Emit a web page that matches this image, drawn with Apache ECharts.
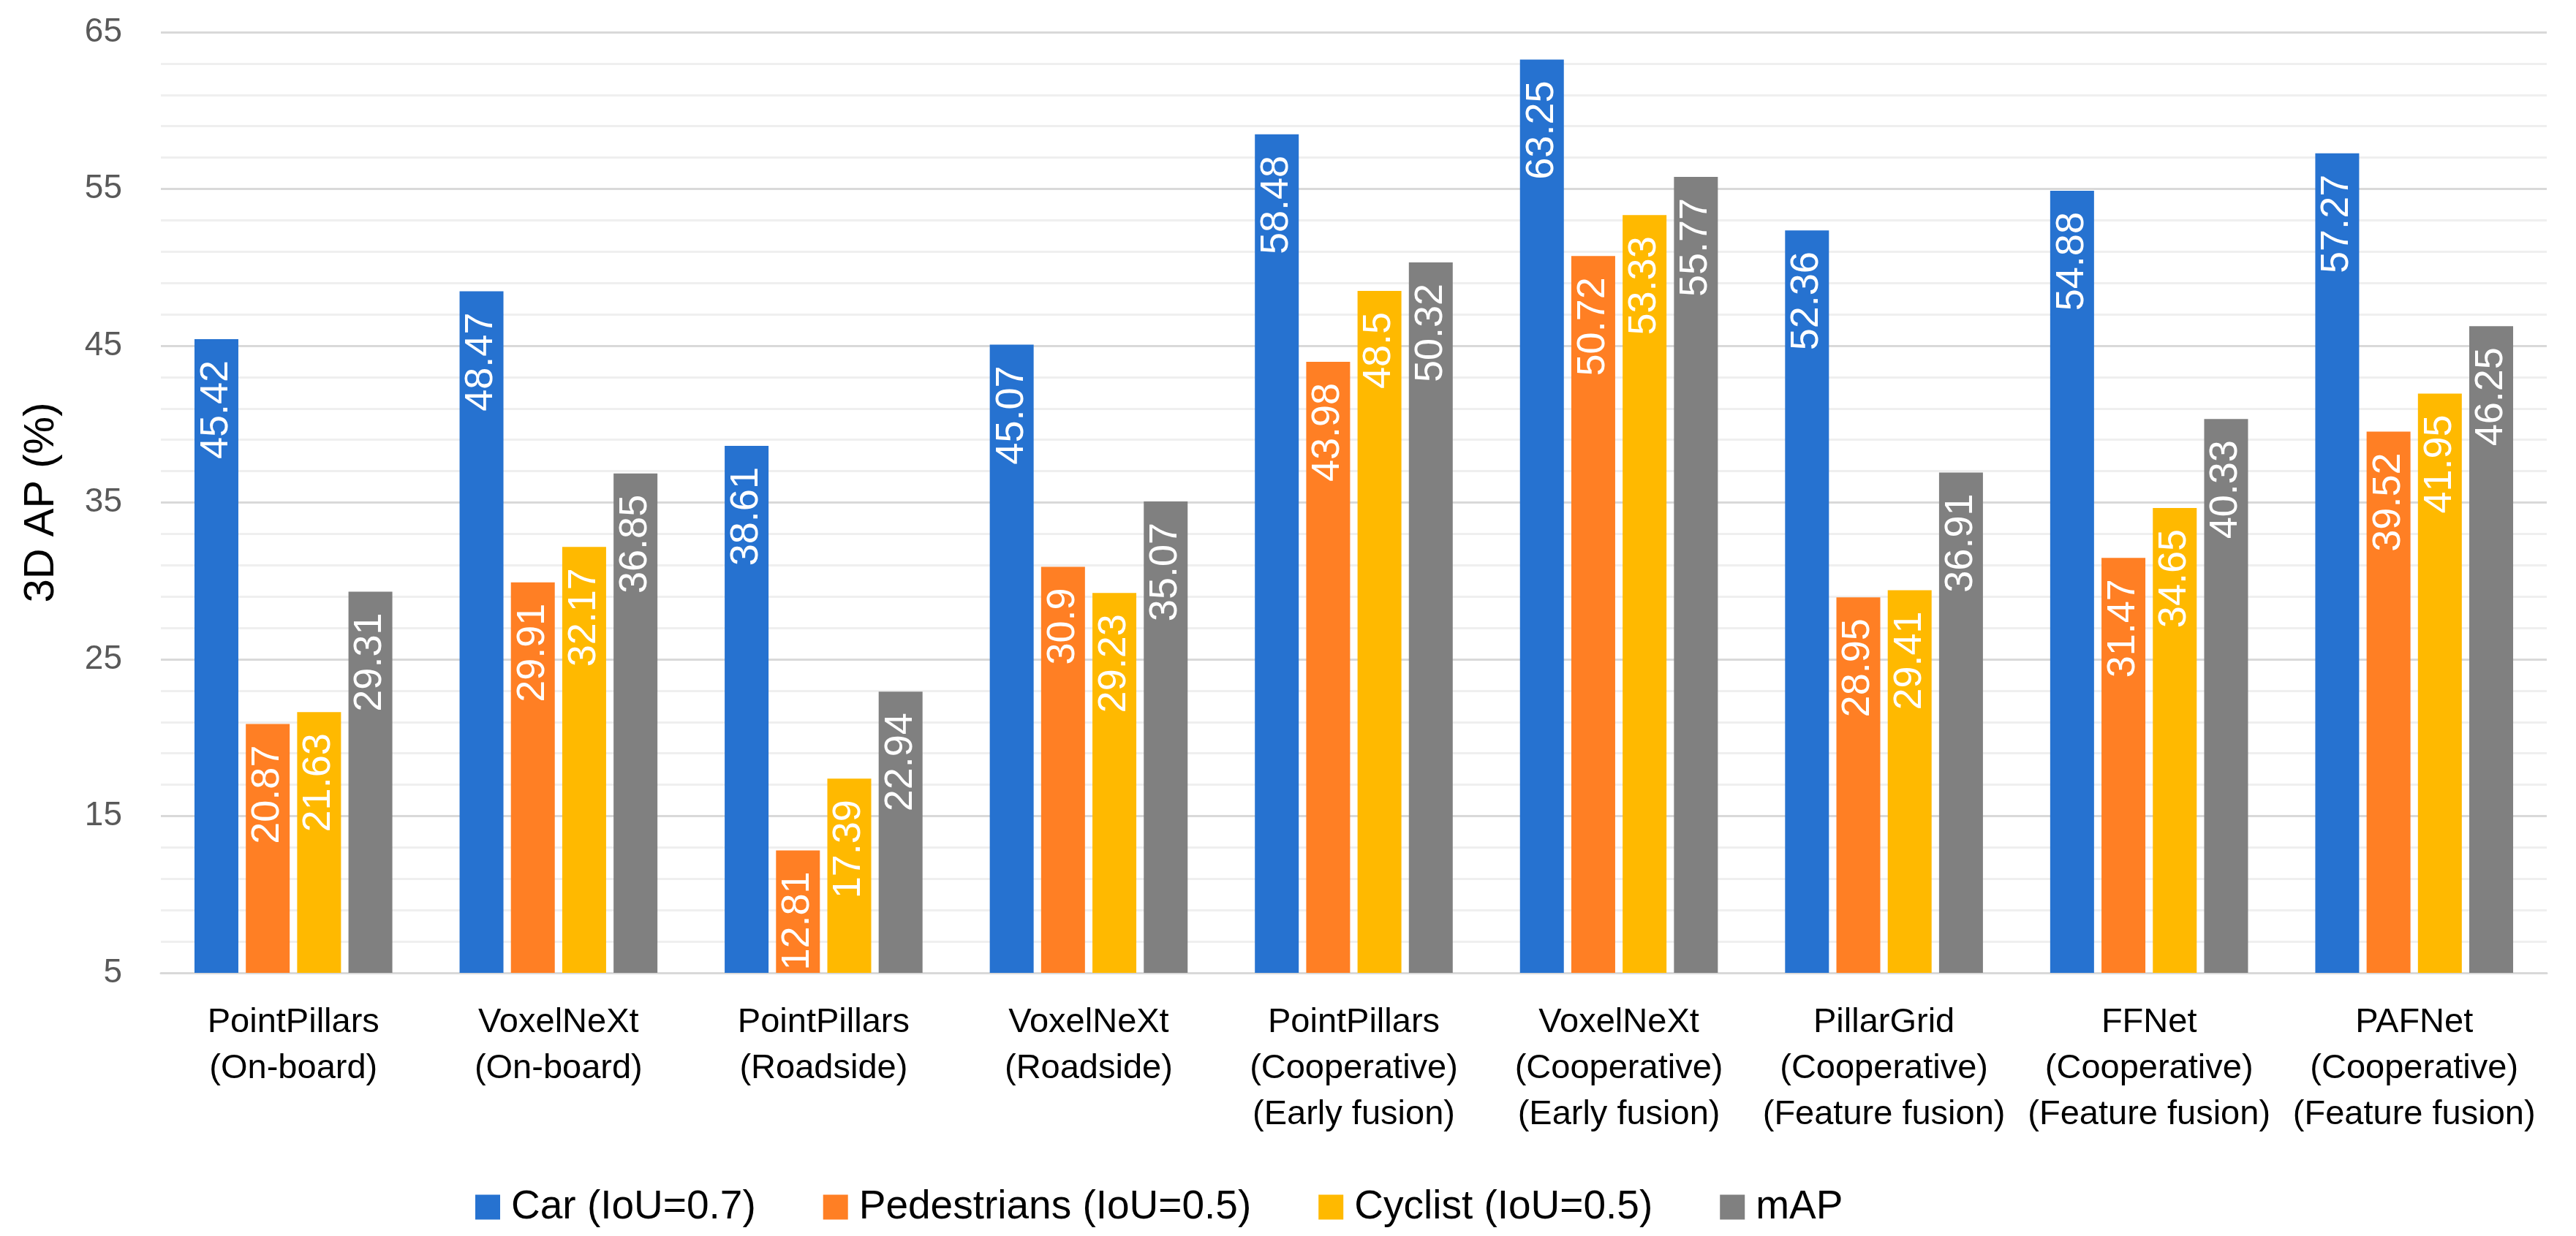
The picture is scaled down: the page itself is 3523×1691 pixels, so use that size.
<!DOCTYPE html>
<html>
<head>
<meta charset="utf-8">
<script src="https://cdn.jsdelivr.net/npm/echarts@6/dist/echarts.min.js"></script>
<style>
html,body{margin:0;padding:0;background:#fff;}
#chart{width:3523px;height:1691px;}
</style>
</head>
<body>
<div id="chart"></div>
<script>
const categories = [
  'PointPillars\n(On-board)',
  'VoxelNeXt\n(On-board)',
  'PointPillars\n(Roadside)',
  'VoxelNeXt\n(Roadside)',
  'PointPillars\n(Cooperative)\n(Early fusion)',
  'VoxelNeXt\n(Cooperative)\n(Early fusion)',
  'PillarGrid\n(Cooperative)\n(Feature fusion)',
  'FFNet\n(Cooperative)\n(Feature fusion)',
  'PAFNet\n(Cooperative)\n(Feature fusion)'
];
const seriesNames = ['Car (IoU=0.7)', 'Pedestrians (IoU=0.5)', 'Cyclist (IoU=0.5)', 'mAP'];
const carValues = [45.42, 48.47, 38.61, 45.07, 58.48, 63.25, 52.36, 54.88, 57.27];
const pedestrianValues = [20.87, 29.91, 12.81, 30.9, 43.98, 50.72, 28.95, 31.47, 39.52];
const cyclistValues = [21.63, 32.17, 17.39, 29.23, 48.5, 53.33, 29.41, 34.65, 41.95];
const mapValues = [29.31, 36.85, 22.94, 35.07, 50.32, 55.77, 36.91, 40.33, 46.25];
const yTicks = [5, 15, 25, 35, 45, 55, 65];

const colors = ['#2672D0', '#FF7F24', '#FFB900', '#808080'];
const FONT = 'Liberation Sans';
const allValues = [carValues, pedestrianValues, cyclistValues, mapValues];

const chart = echarts.init(document.getElementById('chart'), null, {renderer: 'canvas'});
chart.setOption({
  backgroundColor: '#ffffff',
  animation: false,
  color: colors,
  textStyle: {fontFamily: FONT},
  grid: {left: 220, right: 40, top: 44, bottom: 360, containLabel: false},
  legend: {
    left: 645,
    top: 1619,
    itemWidth: 34,
    itemHeight: 34,
    itemGap: 92,
    icon: 'rect',
    textStyle: {fontFamily: FONT, fontSize: 55, color: '#000', padding: [0, 0, 0, 10]},
    data: seriesNames
  },
  xAxis: {
    type: 'category',
    data: categories,
    axisLine: {show: true, lineStyle: {color: '#d9d9d9', width: 3}},
    axisTick: {show: false},
    axisLabel: {
      fontFamily: FONT, fontSize: 47, color: '#000', lineHeight: 63,
      margin: 37, verticalAlign: 'top', interval: 0
    }
  },
  yAxis: {
    type: 'value',
    min: yTicks[0],
    max: yTicks[yTicks.length - 1],
    interval: 10,
    name: '3D AP (%)',
    nameLocation: 'middle',
    nameRotate: 90,
    nameGap: 134,
    nameTextStyle: {fontFamily: FONT, fontSize: 58, color: '#000'},
    axisLine: {show: false},
    axisTick: {show: false},
    axisLabel: {fontFamily: FONT, fontSize: 46, color: '#595959', margin: 53},
    splitLine: {show: true, lineStyle: {color: '#d9d9d9', width: 3}},
    minorTick: {show: false, splitNumber: 5},
    minorSplitLine: {show: true, lineStyle: {color: '#efefef', width: 3}}
  },
  series: seriesNames.map((name, i) => ({
    name: name,
    type: 'bar',
    data: allValues[i],
    barWidth: 60,
    barGap: '17%',
    itemStyle: {color: colors[i]},
    label: {
      show: true,
      position: 'insideTop',
      rotate: 90,
      align: 'right',
      verticalAlign: 'middle',
      distance: 29,
      fontFamily: FONT,
      fontSize: 54,
      color: '#ffffff'
    }
  }))
});
</script>
</body>
</html>
